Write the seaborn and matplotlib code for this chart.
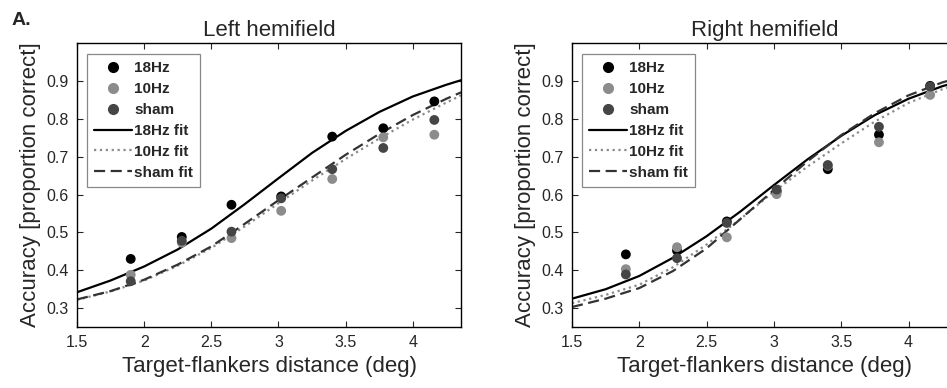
import numpy as np
import pandas as pd
import matplotlib
matplotlib.use("Agg")
import matplotlib.pyplot as plt
import seaborn as sns
from matplotlib.lines import Line2D

# stimulus distances (deg)
distance = [1.9, 2.28, 2.65, 3.02, 3.4, 3.78, 4.16]

# observed accuracy, left hemifield
left_18hz = [0.430, 0.488, 0.573, 0.595, 0.753, 0.775, 0.846]
left_10hz = [0.388, 0.473, 0.485, 0.557, 0.641, 0.751, 0.758]
left_sham = [0.371, 0.478, 0.502, 0.590, 0.667, 0.723, 0.797]

# observed accuracy, right hemifield
right_18hz = [0.442, 0.452, 0.529, 0.608, 0.667, 0.758, 0.887]
right_10hz = [0.403, 0.461, 0.487, 0.601, 0.676, 0.738, 0.863]
right_sham = [0.389, 0.432, 0.525, 0.613, 0.678, 0.779, 0.885]

# fitted curves
fit_x = [1.5, 1.75, 2.0, 2.25, 2.5, 2.75, 3.0, 3.25, 3.5, 3.75, 4.0, 4.25, 4.36]
left_fit_18hz = [0.342, 0.373, 0.410, 0.455, 0.510, 0.575, 0.643, 0.710, 0.768, 0.818, 0.859, 0.890, 0.902]
left_fit_10hz = [0.322, 0.344, 0.373, 0.412, 0.459, 0.516, 0.577, 0.637, 0.694, 0.748, 0.798, 0.843, 0.862]
left_fit_sham = [0.323, 0.345, 0.375, 0.415, 0.463, 0.523, 0.585, 0.645, 0.705, 0.760, 0.810, 0.853, 0.870]
right_fit_18hz = [0.325, 0.350, 0.385, 0.433, 0.490, 0.555, 0.625, 0.693, 0.755, 0.810, 0.853, 0.886, 0.897]
right_fit_10hz = [0.313, 0.335, 0.362, 0.408, 0.468, 0.535, 0.608, 0.674, 0.735, 0.793, 0.842, 0.878, 0.890]
right_fit_sham = [0.303, 0.325, 0.353, 0.398, 0.458, 0.535, 0.612, 0.688, 0.757, 0.815, 0.862, 0.896, 0.907]

conditions = ["18Hz", "10Hz", "sham"]
dot_colors = {"18Hz": "#000000", "10Hz": "#8c8c8c", "sham": "#454545"}
fit_styles = {"18Hz": ("#000000", "-"), "10Hz": ("#8a8a8a", ":"), "sham": ("#333333", (0, (5, 2.5)))}

sns.set_style("ticks")
plt.rcParams["font.family"] = ["Liberation Sans", "DejaVu Sans"]

fig = plt.figure(figsize=(9.47, 3.88), dpi=100)
ax_l = fig.add_axes([0.0813, 0.157, 0.4057, 0.732])
# right panel runs past the figure edge, as in the cropped original
ax_r = fig.add_axes([0.604, 0.157, 0.4066, 0.732])

panels = [
    (ax_l, "Left hemifield", [left_18hz, left_10hz, left_sham],
     [left_fit_18hz, left_fit_10hz, left_fit_sham]),
    (ax_r, "Right hemifield", [right_18hz, right_10hz, right_sham],
     [right_fit_18hz, right_fit_10hz, right_fit_sham]),
]

for ax, title, obs, fits in panels:
    for cond, yv in zip(conditions, fits):
        col, ls = fit_styles[cond]
        df = pd.DataFrame({"x": fit_x, "y": yv})
        sns.lineplot(data=df, x="x", y="y", ax=ax, color=col, linestyle=ls,
                     linewidth=1.6, legend=False, zorder=2)
    for cond, yv in zip(conditions, obs):
        df = pd.DataFrame({"x": distance, "y": yv})
        sns.scatterplot(data=df, x="x", y="y", ax=ax, color=dot_colors[cond],
                        s=50, edgecolor="none", legend=False, zorder=3)

    ax.set_xlim(1.5, 4.36)
    ax.set_ylim(0.25, 1.0)
    ax.set_xticks([1.5, 2, 2.5, 3, 3.5, 4])
    ax.set_xticklabels(["1.5", "2", "2.5", "3", "3.5", "4"])
    ax.set_yticks([0.3, 0.4, 0.5, 0.6, 0.7, 0.8, 0.9])
    ax.tick_params(direction="in", top=True, right=True, length=4,
                   width=0.8, labelsize=11.5, pad=6)
    for sp in ax.spines.values():
        sp.set_visible(True)
        sp.set_linewidth(1.0)
        sp.set_color("black")
    ax.set_title(title, fontsize=16, pad=5)
    ax.set_xlabel("Target-flankers distance (deg)", fontsize=16, labelpad=4)
    ax.set_ylabel("Accuracy [proportion correct]", fontsize=16, labelpad=4)

    handles = []
    for cond in conditions:
        handles.append(Line2D([], [], linestyle="none", marker="o", markersize=7,
                              color=dot_colors[cond], label=cond))
    for cond in conditions:
        col, ls = fit_styles[cond]
        handles.append(Line2D([], [], color=col, linestyle=ls, linewidth=1.6,
                              label=cond + " fit"))
    leg = ax.legend(handles=handles, loc="upper left", bbox_to_anchor=(0.026, 0.96),
                    frameon=True, fancybox=False, edgecolor="#888888",
                    framealpha=1, handlelength=2.5, handletextpad=0.15,
                    labelspacing=0.45, borderpad=0.45, borderaxespad=0,
                    prop={"weight": "bold", "size": 11})
    leg.get_frame().set_linewidth(0.9)

fig.text(0.012, 0.948, "A.", fontsize=14, fontweight="bold", va="center", ha="left")

fig.savefig("out.png", dpi=100)
